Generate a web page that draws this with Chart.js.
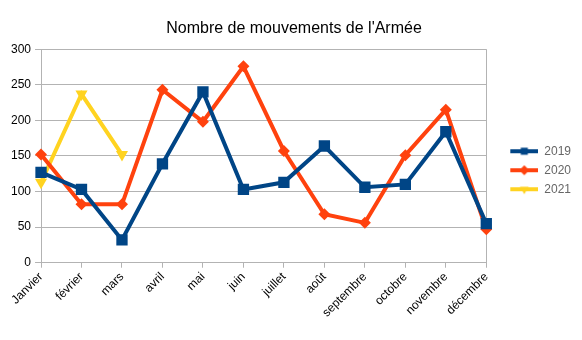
<!DOCTYPE html>
<html>
<head>
<meta charset="utf-8">
<script src="https://cdn.jsdelivr.net/npm/chart.js@4/dist/chart.umd.min.js"></script>
<style>
  html, body { margin: 0; padding: 0; background: #fff; }
  #wrap { width: 582px; height: 340px; }
</style>
</head>
<body>
<div id="wrap"><canvas id="chart"></canvas></div>
<script>
const MOIS = ['Janvier', 'février', 'mars', 'avril', 'mai', 'juin', 'juillet', 'août', 'septembre', 'octobre', 'novembre', 'décembre'];

const MVT_2019 = [127, 103, 32, 139, 240, 103, 113, 164, 106, 110, 184, 55];
const MVT_2020 = [152, 82, 82, 243, 198, 276, 157, 68, 56, 151, 215, 47];
const MVT_2021 = [113, 237, 152];

const Y_MIN = 0;
const Y_MAX = 300;
const Y_STEP = 50;

const FONT = 'Liberation Sans, Arial, sans-serif';
const GRID = '#b3b3b3';

// legend symbol: blank margin on the left, then a short line with its marker
const SYM_GAP = 17;
const SYM_LEN = 28;

function serie(label, data, color, pointStyle, rotation, radius) {
  return {
    label,
    data,
    borderColor: color,
    backgroundColor: color,
    borderWidth: 4,
    pointStyle,
    rotation,
    pointRadius: radius,
    pointHoverRadius: radius,
    pointBorderWidth: 0,
    tension: 0,
  };
}

function legendSymbol(ds) {
  const c = document.createElement('canvas');
  c.width = SYM_GAP + SYM_LEN;
  c.height = 12;
  const ctx = c.getContext('2d');
  ctx.strokeStyle = ds.borderColor;
  ctx.lineWidth = 4;
  ctx.beginPath();
  ctx.moveTo(SYM_GAP, 6);
  ctx.lineTo(SYM_GAP + SYM_LEN, 6);
  ctx.stroke();
  ctx.fillStyle = ds.borderColor;
  Chart.helpers.drawPoint(ctx, { pointStyle: ds.pointStyle, rotation: ds.rotation, radius: 5, borderWidth: 0 }, SYM_GAP + SYM_LEN / 2, 6);
  return c;
}

const datasets = [
  serie('2019', MVT_2019, '#004586', 'rect', 0, 8),
  serie('2020', MVT_2020, '#ff420e', 'rectRot', 0, 6),
  serie('2021', MVT_2021, '#ffd320', 'triangle', 180, 7),
];

new Chart(document.getElementById('chart'), {
  type: 'line',
  data: { labels: MOIS, datasets },
  options: {
    responsive: true,
    maintainAspectRatio: false,
    animation: false,
    layout: { padding: { left: 7, right: 1, top: 4, bottom: 18 } },
    plugins: {
      title: {
        display: true,
        text: "Nombre de mouvements de l'Armée",
        color: '#000',
        font: { family: FONT, size: 16, weight: 'normal' },
        padding: { top: 15, bottom: 11 },
      },
      legend: {
        position: 'right',
        // empty title only pushes the entries a little lower
        title: { display: true, text: ' ', font: { size: 2 }, padding: { top: 0, bottom: 12 } },
        labels: {
          usePointStyle: true,
          pointStyleWidth: SYM_GAP + SYM_LEN,
          boxHeight: 12,
          padding: 7,
          color: '#000',
          font: { family: FONT, size: 12 },
          generateLabels(chart) {
            return chart.data.datasets.map((ds, i) => ({
              text: ds.label,
              pointStyle: legendSymbol(ds),
              fillStyle: ds.borderColor,
              strokeStyle: ds.borderColor,
              lineWidth: 0,
              datasetIndex: i,
              hidden: false,
            }));
          },
        },
      },
      tooltip: { enabled: false },
    },
    scales: {
      x: {
        offset: false,
        grid: {
          drawOnChartArea: true,
          color: (ctx) => (ctx.index === MOIS.length - 1 ? GRID : 'transparent'),
          tickColor: GRID,
          tickLength: 5,
        },
        border: { color: GRID, width: 1 },
        ticks: {
          color: '#000',
          font: { family: FONT, size: 12 },
          minRotation: 45,
          maxRotation: 45,
          autoSkip: false,
          padding: 2,
        },
      },
      y: {
        min: Y_MIN,
        max: Y_MAX,
        grid: { color: GRID, tickLength: 6, tickColor: GRID },
        border: { color: GRID, width: 1 },
        ticks: {
          stepSize: Y_STEP,
          color: '#000',
          font: { family: FONT, size: 12 },
          padding: 4,
        },
      },
    },
  },
});
</script>
</body>
</html>
